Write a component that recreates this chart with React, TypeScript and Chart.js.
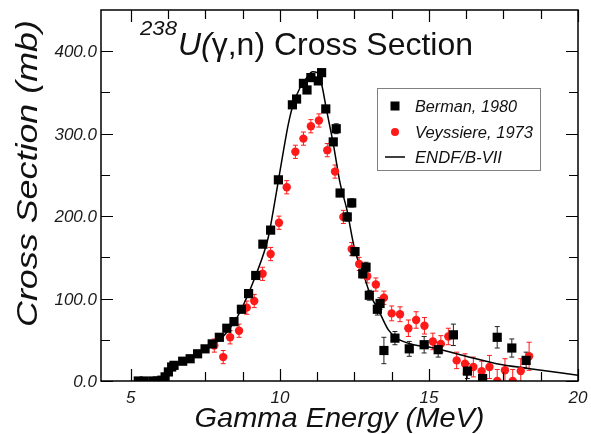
import React, { useEffect, useRef } from "react";
import { Chart, registerables } from "chart.js";
Chart.register(...registerables);

// Berman, 1980 (black squares)
const bermanE = [5.25, 5.45, 5.75, 5.89, 6.04, 6.15, 6.26, 6.37, 6.45, 6.74, 6.99, 7.24, 7.49, 7.73, 7.97, 8.22, 8.46, 8.71, 8.95, 9.19, 9.43, 9.69, 9.95, 10.42, 10.56, 10.79, 10.91, 11.04, 11.29, 11.40, 11.54, 11.79, 11.89, 12.02, 12.26, 12.41, 12.52, 12.78, 12.89, 13.00, 13.27, 13.36, 13.49, 13.86, 14.34, 14.84, 15.31, 15.82, 16.29, 16.80, 17.29, 17.78, 18.26];
const bermanXS = [0, 0, 0, 0, 1, 5, 11, 17, 19, 24, 27, 33, 39, 45, 53, 64, 72, 87, 106, 128, 166, 183, 244, 335, 342, 361, 353, 368, 364, 374, 330, 290, 306, 228, 199, 216, 157, 130, 138, 104, 87, 94, 37, 52, 39, 44, 38, 56, 12, 3, 53, 40, 25];
const bermanErr = [1, 1, 1, 1, 1, 1, 1, 1, 1, 1, 1, 1, 1, 2, 2, 2, 2, 2, 3, 3, 3, 3, 4, 4, 4, 4, 4, 4, 4, 4, 4, 4, 6, 4, 5, 5, 5, 5, 6, 6, 7, 7, 16, 8, 9, 10, 9, 13, 9, 8, 13, 11, 10];

// Veyssiere, 1973 (red circles)
const veyE = [7.80, 8.10, 8.33, 8.63, 8.89, 9.14, 9.42, 9.69, 9.97, 10.23, 10.52, 10.79, 11.04, 11.31, 11.59, 11.85, 12.13, 12.41, 12.66, 12.93, 13.22, 13.49, 13.75, 14.03, 14.31, 14.57, 14.85, 15.13, 15.40, 15.65, 15.93, 16.21, 16.49, 16.77, 17.03, 17.29, 17.55, 17.81, 18.08, 18.36];
const veyXS = [43, 29, 53, 61, 89, 97, 130, 154, 192, 235, 278, 294, 309, 316, 280, 254, 199, 160, 142, 127, 117, 101, 82, 81, 64, 74, 67, 48, 45, 54, 25, 21, 17, 12, 17, 0, 13, 0, 12, 30];
const veyErr = [8, 8, 8, 8, 8, 8, 8, 8, 8, 8, 8, 8, 8, 8, 8, 8, 8, 8, 8, 8, 8, 8, 9, 9, 10, 10, 10, 10, 10, 10, 10, 12, 12, 12, 14, 14, 14, 14, 15, 17];

// ENDF/B-VII evaluation (solid line)
const endfE = [6.0, 6.09, 6.26, 6.54, 6.99, 7.55, 7.99, 8.44, 8.71, 9.19, 9.61, 9.78, 9.95, 10.12, 10.28, 10.45, 10.68, 10.90, 11.10, 11.25, 11.40, 11.57, 11.79, 12.02, 12.24, 12.52, 12.80, 13.02, 13.36, 13.64, 13.92, 14.48, 15.04, 16.15, 17.27, 18.39, 20.0];
const endfXS = [0, 1, 11, 21, 27, 39, 50, 70, 87, 128, 174, 207, 243, 279, 311, 336, 356, 368, 375, 374, 360, 328, 288, 240, 209, 158, 130, 106, 82, 62, 52, 44, 41, 31, 21, 15, 7];

const xTickValues = [5, 10, 15, 20];
const xTickLabels = ["5", "10", "15", "20"];
const yTickValues = [0, 100, 200, 300, 400];
const yTickLabels = ["0.0", "100.0", "200.0", "300.0", "400.0"];
const legendLabels = ["Berman, 1980", "Veyssiere, 1973", "ENDF/B-VII"];

const X_MIN = 4, X_MAX = 20, Y_MIN = 0, Y_MAX = 450;
const RED = "#ff1a1a";
const FONT = '"Liberation Sans", Arial, sans-serif';

const errs: Record<number, { err: number[]; color: string }> = {
  0: { err: bermanErr, color: "#222" },
  1: { err: veyErr, color: RED },
};

function fitText(ctx: CanvasRenderingContext2D, text: string, x: number, y: number, w: number, align: "center" | "left" | "right") {
  const m = ctx.measureText(text).width;
  const s = w / m;
  ctx.save();
  ctx.translate(x, y);
  ctx.scale(s, 1);
  ctx.textAlign = align;
  ctx.fillText(text, 0, 0);
  ctx.restore();
}

const decor = {
  id: "decor",
  beforeDatasetsDraw(chart: any) {
    const ctx: CanvasRenderingContext2D = chart.ctx;
    const xs = chart.scales.x, ys = chart.scales.y;
    const a = chart.chartArea;
    ctx.save();
    ctx.beginPath();
    ctx.rect(a.left, a.top, a.right - a.left, a.bottom - a.top);
    ctx.clip();
    Object.keys(errs).forEach((k) => {
      const di = Number(k);
      const ds = chart.data.datasets[di];
      const { err, color } = errs[di];
      ctx.strokeStyle = color;
      ctx.lineWidth = 1;
      ds.data.forEach((p: any, i: number) => {
        const px = xs.getPixelForValue(p.x);
        const y1 = ys.getPixelForValue(p.y - err[i]);
        const y2 = ys.getPixelForValue(p.y + err[i]);
        ctx.beginPath();
        ctx.moveTo(px, y1); ctx.lineTo(px, y2);
        ctx.moveTo(px - 2.5, y1); ctx.lineTo(px + 2.5, y1);
        ctx.moveTo(px - 2.5, y2); ctx.lineTo(px + 2.5, y2);
        ctx.stroke();
      });
    });
    ctx.restore();
  },
  afterDraw(chart: any) {
    const ctx: CanvasRenderingContext2D = chart.ctx;
    const xs = chart.scales.x, ys = chart.scales.y;
    const a = chart.chartArea;
    ctx.save();
    // frame
    ctx.strokeStyle = "#000";
    ctx.lineWidth = 1.5;
    ctx.strokeRect(a.left, a.top, a.right - a.left, a.bottom - a.top);
    // x ticks (every 1.25, major every 5)
    ctx.lineWidth = 1.2;
    for (let v = 5; v <= X_MAX + 1e-6; v += 1.25) {
      const px = Math.round(xs.getPixelForValue(v)) + 0.5;
      const major = Math.abs(v / 5 - Math.round(v / 5)) < 1e-6;
      const len = major ? 12 : 9;
      ctx.beginPath();
      ctx.moveTo(px, a.bottom); ctx.lineTo(px, a.bottom - len);
      ctx.moveTo(px, a.top); ctx.lineTo(px, a.top + len);
      ctx.stroke();
    }
    for (let v = 0; v <= 400; v += 50) {
      const py = Math.round(ys.getPixelForValue(v)) + 0.5;
      const major = v % 100 === 0;
      const len = major ? 12 : 9;
      ctx.beginPath();
      ctx.moveTo(a.left, py); ctx.lineTo(a.left + len, py);
      ctx.moveTo(a.right, py); ctx.lineTo(a.right - len, py);
      ctx.stroke();
    }
    // tick labels
    ctx.fillStyle = "#1a1a1a";
    ctx.font = `italic 17px ${FONT}`;
    ctx.textBaseline = "alphabetic";
    xTickValues.forEach((v, i) => {
      const px = xs.getPixelForValue(v);
      ctx.textAlign = "center";
      ctx.fillText(xTickLabels[i], px, 403);
    });
    yTickValues.forEach((v, i) => {
      const py = ys.getPixelForValue(v);
      ctx.textAlign = "right";
      ctx.fillText(yTickLabels[i], 97, py + 6);
    });
    // axis titles
    ctx.fillStyle = "#111";
    ctx.font = `italic 28px ${FONT}`;
    fitText(ctx, "Gamma Energy (MeV)", (a.left + a.right) / 2, 427, 290, "center");
    ctx.save();
    ctx.translate(37, 173.5);
    ctx.rotate(-Math.PI / 2);
    ctx.font = `italic 30px ${FONT}`;
    fitText(ctx, "Cross Section (mb)", 0, 0, 307, "center");
    ctx.restore();
    // chart title
    ctx.font = `italic 21px ${FONT}`;
    ctx.textAlign = "left";
    fitText(ctx, "238", 140, 35, 37, "left");
    const parts: [string, string][] = [
      ["U(", `italic 32px ${FONT}`],
      ["\u03b3", `32px ${FONT}`],
      [",n) Cross Section", `32px ${FONT}`],
    ];
    let total = 0;
    parts.forEach(([t, f]) => { ctx.font = f; total += ctx.measureText(t).width; });
    const s = 295 / total;
    ctx.save();
    ctx.translate(178, 55);
    ctx.scale(s, 1);
    let cx = 0;
    parts.forEach(([t, f]) => {
      ctx.font = f;
      ctx.textAlign = "left";
      ctx.fillText(t, cx, 0);
      cx += ctx.measureText(t).width;
    });
    ctx.restore();
    // legend
    ctx.strokeStyle = "#808080";
    ctx.lineWidth = 1;
    ctx.strokeRect(377.5, 88.5, 163, 82);
    ctx.fillStyle = "#000";
    ctx.fillRect(390.5, 101.5, 9, 9);
    ctx.fillStyle = RED;
    ctx.beginPath();
    ctx.arc(395, 132, 4, 0, Math.PI * 2);
    ctx.fill();
    ctx.strokeStyle = "#000";
    ctx.lineWidth = 1.5;
    ctx.beginPath();
    ctx.moveTo(385, 157); ctx.lineTo(405, 157);
    ctx.stroke();
    ctx.fillStyle = "#111";
    ctx.font = `italic 16px ${FONT}`;
    const widths = [102, 118, 87];
    const rows = [106, 132, 157];
    legendLabels.forEach((t, i) => fitText(ctx, t, 415, rows[i] + 6, widths[i], "left"));
    ctx.restore();
  },
};

export default function App() {
  const ref = useRef<HTMLCanvasElement>(null);
  useEffect(() => {
    document.body.style.margin = "0";
    const chart = new Chart(ref.current!, {
      type: "scatter",
      data: {
        datasets: [
          {
            label: legendLabels[0],
            data: bermanE.map((x, i) => ({ x, y: bermanXS[i] })),
            pointStyle: "rect",
            pointRadius: 6.5,
            backgroundColor: "#000",
            borderColor: "#000",
            borderWidth: 0,
            showLine: false,
          },
          {
            label: legendLabels[1],
            data: veyE.map((x, i) => ({ x, y: veyXS[i] })),
            pointStyle: "circle",
            pointRadius: 4.2,
            backgroundColor: RED,
            borderColor: RED,
            borderWidth: 0,
            showLine: false,
          },
          {
            label: legendLabels[2],
            data: endfE.map((x, i) => ({ x, y: endfXS[i] })),
            showLine: true,
            pointRadius: 0,
            borderColor: "#000",
            borderWidth: 1.5,
            cubicInterpolationMode: "monotone",
            fill: false,
          } as any,
        ],
      },
      options: {
        responsive: false,
        animation: false,
        layout: { padding: { left: 101, right: 13, top: 10, bottom: 53 } },
        plugins: { legend: { display: false }, tooltip: { enabled: false }, title: { display: false } },
        scales: {
          x: { type: "linear", min: X_MIN, max: X_MAX, display: false },
          y: { type: "linear", min: Y_MIN, max: Y_MAX, display: false },
        },
      },
      plugins: [decor],
    });
    return () => chart.destroy();
  }, []);
  return <canvas ref={ref} width={591} height={434} style={{ display: "block" }} />;
}
